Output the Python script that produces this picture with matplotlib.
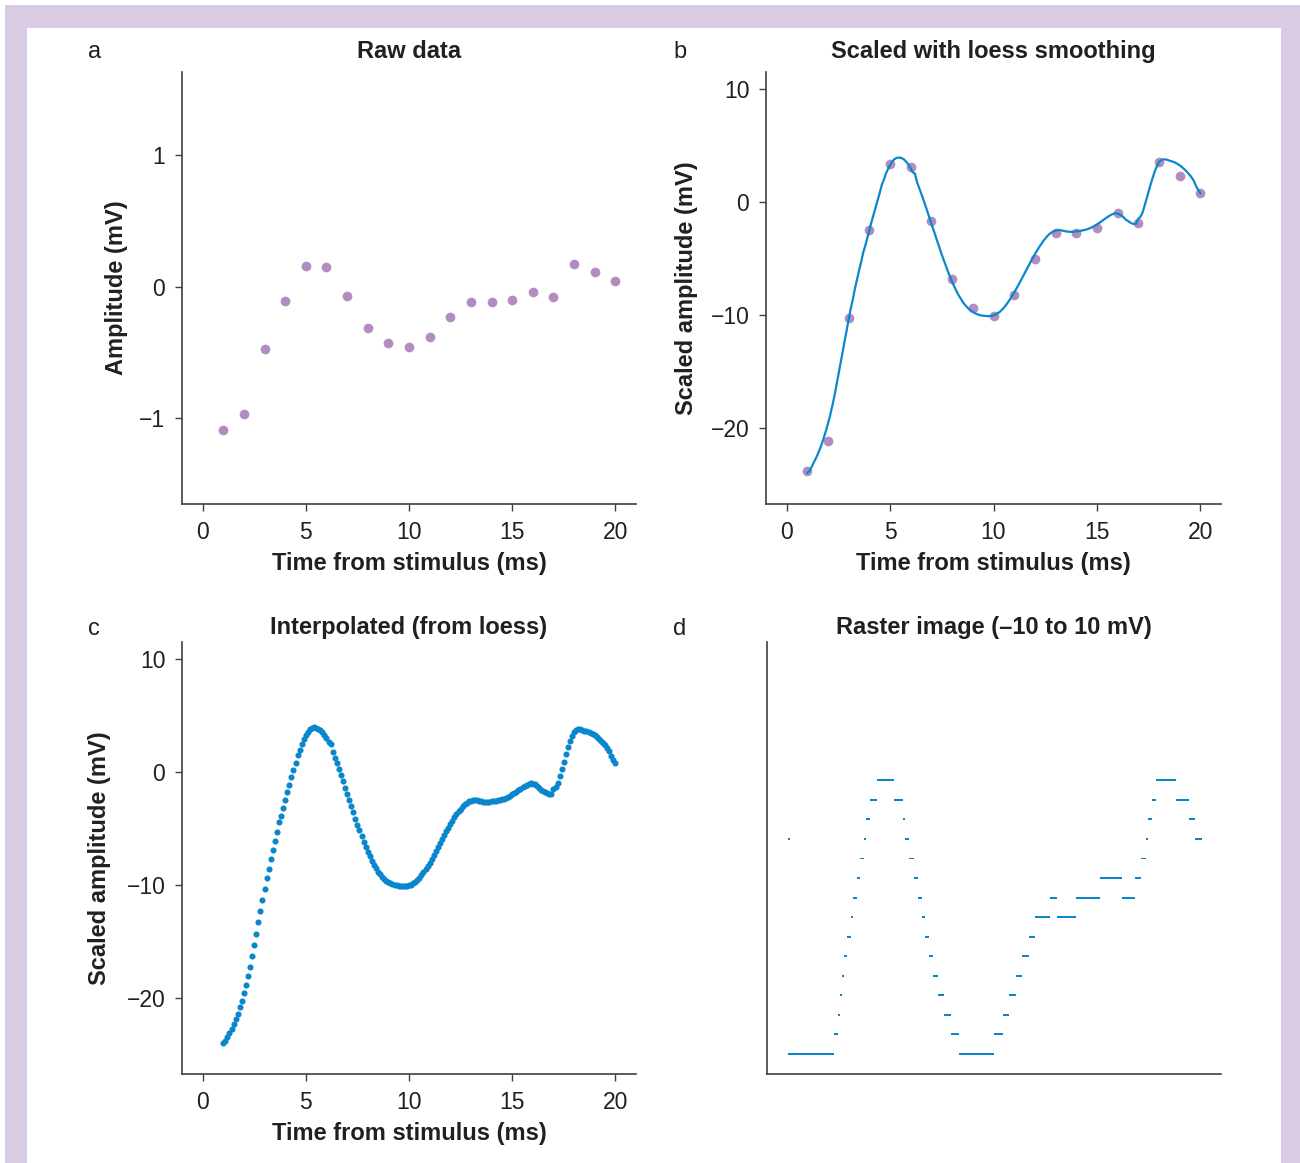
import numpy as np
import matplotlib
matplotlib.use("Agg")
import matplotlib.pyplot as plt
from matplotlib.patches import Rectangle
from matplotlib.colors import ListedColormap

plt.rcParams['font.family'] = ['Liberation Sans', 'DejaVu Sans']

# raw samples, one per ms
time_ms = [1, 2, 3, 4, 5, 6, 7, 8, 9, 10, 11, 12, 13, 14, 15, 16, 17, 18, 19, 20]
raw_mv = [-1.09, -0.97, -0.47, -0.11, 0.16, 0.15, -0.07, -0.31, -0.43, -0.46,
          -0.38, -0.23, -0.12, -0.12, -0.10, -0.04, -0.08, 0.17, 0.11, 0.04]
scaled_mv = [-23.8, -21.2, -10.3, -2.45, 3.37, 3.17, -1.63, -6.8, -9.37, -10.1,
             -8.25, -5.06, -2.69, -2.69, -2.28, -0.98, -1.8, 3.58, 2.31, 0.8]

# loess curve sampled every 0.1 ms from 1 to 20 ms
interp_time = np.round(np.arange(10, 201) / 10, 1)
loess_mv = [
    -24.0, -23.8, -23.5, -23.1, -22.75, -22.35, -21.9, -21.4, -20.85, -20.25,
    -19.6, -18.9, -18.1, -17.25, -16.3, -15.3, -14.3, -13.3, -12.3, -11.3,
    -10.35, -9.4, -8.6, -7.65, -6.85, -6.05, -5.3, -4.45, -3.85, -3.15,
    -2.45, -1.75, -1.1, -0.45, 0.2, 0.85, 1.55, 2.0, 2.55, 2.95,
    3.3, 3.6, 3.8, 3.92, 3.97, 3.95, 3.88, 3.75, 3.55, 3.3,
    3.0, 2.65, 2.55, 1.8, 1.3, 0.8, 0.3, -0.25, -0.8, -1.35,
    -1.9, -2.45, -3.0, -3.55, -4.1, -4.65, -5.15, -5.65, -6.15, -6.6,
    -7.05, -7.45, -7.85, -8.2, -8.5, -8.8, -9.05, -9.25, -9.45, -9.6,
    -9.72, -9.83, -9.92, -9.98, -10.03, -10.06, -10.08, -10.09, -10.09, -10.07,
    -10.02, -9.95, -9.85, -9.72, -9.55, -9.35, -9.12, -8.87, -8.6, -8.3,
    -8.0, -7.68, -7.35, -7.0, -6.65, -6.3, -5.95, -5.6, -5.25, -4.92,
    -4.6, -4.3, -4.0, -3.72, -3.46, -3.22, -3.0, -2.82, -2.68, -2.58,
    -2.52, -2.48, -2.46, -2.5, -2.55, -2.58, -2.6, -2.62, -2.62, -2.6,
    -2.58, -2.56, -2.54, -2.5, -2.46, -2.41, -2.35, -2.27, -2.18, -2.08,
    -1.97, -1.85, -1.72, -1.58, -1.45, -1.32, -1.2, -1.1, -1.02, -0.98,
    -1.0, -1.08, -1.2, -1.35, -1.55, -1.65, -1.78, -1.88, -1.93, -1.9,
    -1.45, -1.3, -0.95, -0.35, 0.3, 0.95, 1.6, 2.2, 2.75, 3.2,
    3.55, 3.72, 3.8, 3.8, 3.76, 3.7, 3.64, 3.58, 3.5, 3.4,
    3.28, 3.14, 2.98, 2.8, 2.6, 2.4, 2.15, 1.85, 1.4, 1.1,
    0.8,
]
# one stray lit cell in the first raster column: (time, level)
raster_extra = [(1.0, 1)]

purple = '#b38cc2'
blue = '#0a87cc'
ink = '#231f20'
spine_c = '#404040'
lavender = '#d9cbe4'

W, H = 1300, 1163
fig = plt.figure(figsize=(W / 100, H / 100), dpi=100)
fig.patches.append(Rectangle((5 / W, 0), 1 - 5 / W, 1 - 5 / H, transform=fig.transFigure,
                             facecolor=lavender, edgecolor='none', zorder=-10))
fig.patches.append(Rectangle((27 / W, 0), 1254 / W, 1 - 28 / H, transform=fig.transFigure,
                             facecolor='white', edgecolor='none', zorder=-9))


def add_ax(left, top, right, bottom):
    ax = fig.add_axes([left / W, 1 - bottom / H, (right - left) / W, (bottom - top) / H])
    ax.patch.set_alpha(0)
    for s in ['top', 'right']:
        ax.spines[s].set_visible(False)
    for s in ['left', 'bottom']:
        ax.spines[s].set_color(spine_c)
        ax.spines[s].set_linewidth(1.2)
    ax.tick_params(direction='out', length=5, width=1, color=spine_c,
                   labelsize=16.5, labelcolor=ink, pad=7)
    return ax


lab = dict(fontsize=17, fontweight='bold', color=ink)

ax_a = add_ax(182, 72, 636, 504)
ax_b = add_ax(766, 72, 1221, 504)
ax_c = add_ax(182, 642, 636, 1074)
ax_d = add_ax(767, 642, 1221, 1074)

# a: raw data
ax_a.plot(time_ms, raw_mv, 'o', ms=7, color=purple, mec='none')
ax_a.set_xlim(-1, 21)
ax_a.set_ylim(-1.65, 1.63)
ax_a.set_yticks([-1, 0, 1])
ax_a.set_ylabel('Amplitude (mV)', labelpad=8, **lab)

# b: scaled points + loess line
ax_b.plot(time_ms, scaled_mv, 'o', ms=7, color=purple, mec='none')
ax_b.plot(interp_time, loess_mv, '-', lw=1.6, color=blue)
ax_b.set_xlim(-1, 21)
ax_b.set_ylim(-26.75, 11.55)
ax_b.set_yticks([-20, -10, 0, 10])
ax_b.set_ylabel('Scaled amplitude (mV)', labelpad=9, **lab)

# c: interpolated points
ax_c.plot(interp_time, loess_mv, 'o', ms=4.4, color=blue, mec='none')
ax_c.set_xlim(-1, 21)
ax_c.set_ylim(-26.75, 11.55)
ax_c.set_yticks([-20, -10, 0, 10])
ax_c.set_ylabel('Scaled amplitude (mV)', labelpad=11, **lab)

for ax in [ax_a, ax_b, ax_c]:
    ax.set_xticks([0, 5, 10, 15, 20])
    ax.set_xlabel('Time from stimulus (ms)', labelpad=6, **lab)

# d: raster, one lit cell per time column, 1 mV levels between -10 and 10
levels = np.clip(np.round(np.array(loess_mv)), -10, 10).astype(int)
grid = np.zeros((201, len(interp_time)))
grid[(levels + 10) * 10, np.arange(len(interp_time))] = 1
for t, lv in raster_extra:
    grid[(lv + 10) * 10, int(round((t - 1.0) * 10))] = 1
ax_d.imshow(np.ma.masked_equal(grid, 0), cmap=ListedColormap([blue]), origin='lower',
            extent=[0.95, 20.05, -10.05, 10.05], aspect='auto', interpolation='nearest')
ax_d.set_xlim(-0.02, 20.95)
ax_d.set_ylim(-11.0, 11.15)
ax_d.set_xticks([])
ax_d.set_yticks([])

ttl = dict(fontsize=17, fontweight='bold', color=ink)
ax_a.set_title('Raw data', pad=10, **ttl)
ax_b.set_title('Scaled with loess smoothing', pad=10, **ttl)
ax_c.set_title('Interpolated (from loess)', pad=6, **ttl)
ax_d.set_title('Raster image (\u201310 to 10 mV)', pad=6, **ttl)

for txt, x, y in [('a', 88, 58), ('b', 673, 58), ('c', 88, 635), ('d', 673, 635)]:
    fig.text(x / W, 1 - y / H, txt, fontsize=17, color=ink, va='baseline')

fig.savefig('out.png', dpi=100)
